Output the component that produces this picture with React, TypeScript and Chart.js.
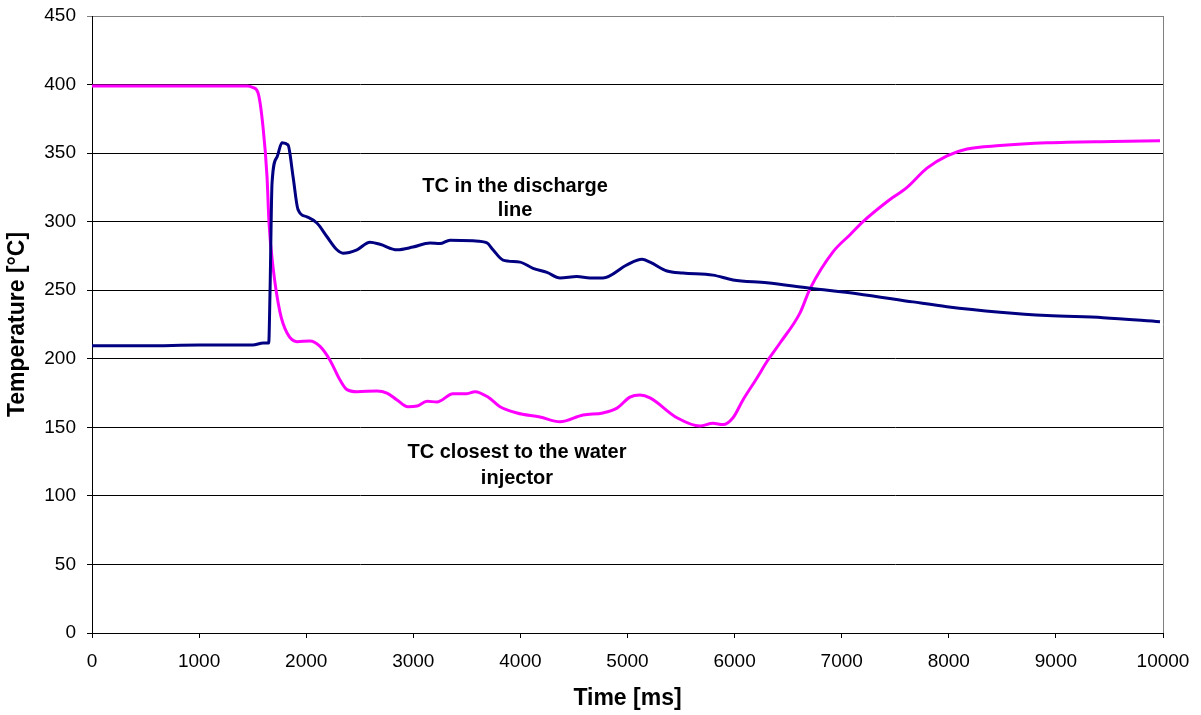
import React, { useEffect, useRef } from "react";
import { Chart, registerables } from "chart.js";

Chart.register(...registerables);

// TC in the discharge line
const timeDischarge = [0, 500, 1000, 1500, 1600, 1650, 1662, 1681, 1727, 1774, 1830, 1877, 1923, 2007, 2100, 2194, 2287, 2343, 2474, 2595, 2689, 2848, 2997, 3156, 3249, 3343, 3557, 3688, 3744, 3838, 3996, 4118, 4248, 4370, 4528, 4650, 4771, 4995, 5135, 5210, 5369, 5518, 5798, 5985, 6302, 6704, 7143, 7666, 7983, 8478, 8917, 9440, 9972];
const tempDischarge = [209.5, 209.5, 210, 210, 211.5, 211.5, 248, 328, 347, 357.5, 356, 333, 309, 303.5, 299, 289, 279.5, 277, 279.5, 285, 283.5, 279.5, 281.5, 284.5, 284, 286.5, 286, 284.5, 279.5, 272, 270.5, 266, 263, 259, 260, 259, 259, 268.5, 272.5, 270.5, 264, 262.5, 261, 257.5, 255.5, 251.5, 247.5, 241.5, 238, 234, 231.5, 230, 227];

// TC closest to the water injector
const timeInjector = [0, 1000, 1450, 1500, 1550, 1597, 1634, 1653, 1690, 1755, 1820, 1914, 2035, 2129, 2222, 2316, 2381, 2474, 2661, 2754, 2848, 2950, 3035, 3128, 3221, 3371, 3501, 3576, 3700, 3810, 3968, 4183, 4370, 4585, 4771, 4902, 5023, 5117, 5210, 5462, 5677, 5798, 5892, 5985, 6078, 6209, 6302, 6424, 6611, 6704, 6919, 7078, 7199, 7423, 7610, 7796, 7983, 8170, 8478, 8917, 9533, 9972];
const tempInjector = [399, 399, 399, 398, 394, 369, 333, 299, 267, 234, 219, 212.5, 213, 209, 199, 184.5, 177.5, 176, 176.5, 175, 170, 165, 165.5, 169, 168.5, 174.5, 174.5, 176, 172, 165, 160.5, 157.5, 154, 159, 160.5, 164, 172, 173.5, 171.5, 157, 151, 153, 152, 157, 170, 186, 198, 211.5, 233.5, 251, 278, 290.5, 300, 314.5, 325, 339, 348, 353, 355.5, 357.5, 358.5, 359];

const xTicks = [0, 1000, 2000, 3000, 4000, 5000, 6000, 7000, 8000, 9000, 10000];
const yTicks = [0, 50, 100, 150, 200, 250, 300, 350, 400, 450];

const labelDischarge = ["TC in the discharge", "line"];
const labelInjector = ["TC closest to the water", "injector"];

const FONT = "'Liberation Sans', Arial, Helvetica, sans-serif";

export default function App() {
  const ref = useRef<HTMLCanvasElement | null>(null);

  useEffect(() => {
    if (!ref.current) return;
    const toPts = (xs: number[], ys: number[]) => xs.map((x, i) => ({ x, y: ys[i] }));
    const noPad = (s: any) => {
      s.paddingTop = 0;
      s.paddingBottom = 0;
      s.paddingLeft = 0;
      s.paddingRight = 0;
    };

    const annot = {
      id: "annot",
      afterDatasetsDraw(chart: any) {
        const { ctx, scales, chartArea } = chart;
        const xs = scales.x;
        const ys = scales.y;
        ctx.save();
        ctx.strokeStyle = "#808080";
        ctx.lineWidth = 1;
        ctx.beginPath();
        ctx.moveTo(chartArea.right + 0.5, chartArea.top);
        ctx.lineTo(chartArea.right + 0.5, chartArea.bottom);
        ctx.stroke();
        ctx.fillStyle = "#000";
        ctx.font = `bold 20px ${FONT}`;
        ctx.textAlign = "center";
        ctx.textBaseline = "middle";
        const drawLines = (lines: string[], x: number, y0: number, y1: number) => {
          ctx.fillText(lines[0], xs.getPixelForValue(x), ys.getPixelForValue(y0));
          ctx.fillText(lines[1], xs.getPixelForValue(x), ys.getPixelForValue(y1));
        };
        drawLines(labelDischarge, 3950, 326, 308.5);
        drawLines(labelInjector, 3968, 131.5, 113);
        ctx.restore();
      },
    };

    const chart = new Chart(ref.current, {
      type: "line",
      data: {
        datasets: [
          {
            label: "TC in the discharge line",
            data: toPts(timeDischarge, tempDischarge),
            borderColor: "#000080",
            backgroundColor: "#000080",
            borderWidth: 3,
            pointRadius: 0,
            cubicInterpolationMode: "monotone",
          },
          {
            label: "TC closest to the water injector",
            data: toPts(timeInjector, tempInjector),
            borderColor: "#FF00FF",
            backgroundColor: "#FF00FF",
            borderWidth: 3,
            pointRadius: 0,
            cubicInterpolationMode: "monotone",
          },
        ],
      },
      options: {
        responsive: false,
        animation: false,
        layout: { padding: { top: 16, right: 38, left: 0, bottom: 0 } },
        plugins: { legend: { display: false }, tooltip: { enabled: false } },
        scales: {
          x: {
            type: "linear",
            min: 0,
            max: 10000,
            afterBuildTicks: (s: any) => {
              s.ticks = xTicks.map((v) => ({ value: v }));
            },
            afterFit: (s: any) => {
              s.height = 82;
              noPad(s);
            },
            ticks: { color: "#000", font: { family: FONT, size: 19 }, padding: 12, maxRotation: 0, autoSkip: false, callback: (v: any) => String(v) },
            grid: { drawOnChartArea: false, drawTicks: true, tickLength: 5, color: "#000" },
            border: { display: true, color: "#000", width: 1 },
            title: { display: true, text: "Time [ms]", color: "#000", font: { family: FONT, size: 23, weight: "bold" }, padding: { top: 0, bottom: 3 } },
          },
          y: {
            type: "linear",
            min: 0,
            max: 450,
            afterBuildTicks: (s: any) => {
              s.ticks = yTicks.map((v) => ({ value: v }));
            },
            afterFit: (s: any) => {
              s.width = 92;
              noPad(s);
            },
            ticks: { color: "#000", font: { family: FONT, size: 19 }, padding: 11, callback: (v: any) => String(v) },
            grid: { drawTicks: true, tickLength: 5, color: (c: any) => (c.tick && c.tick.value === 450 ? "#808080" : "#000") },
            border: { display: true, color: "#000", width: 1 },
            title: { display: true, text: "Temperature [°C]", color: "#000", font: { family: FONT, size: 23, weight: "bold" }, padding: { top: 4, bottom: 0 } },
          },
        },
      },
      plugins: [annot],
    } as any);
    return () => chart.destroy();
  }, []);

  return (
    <div style={{ position: "fixed", left: 0, top: 0, width: 1201, height: 715, background: "#fff" }}>
      <canvas ref={ref} width={1201} height={715} style={{ display: "block" }} />
    </div>
  );
}
